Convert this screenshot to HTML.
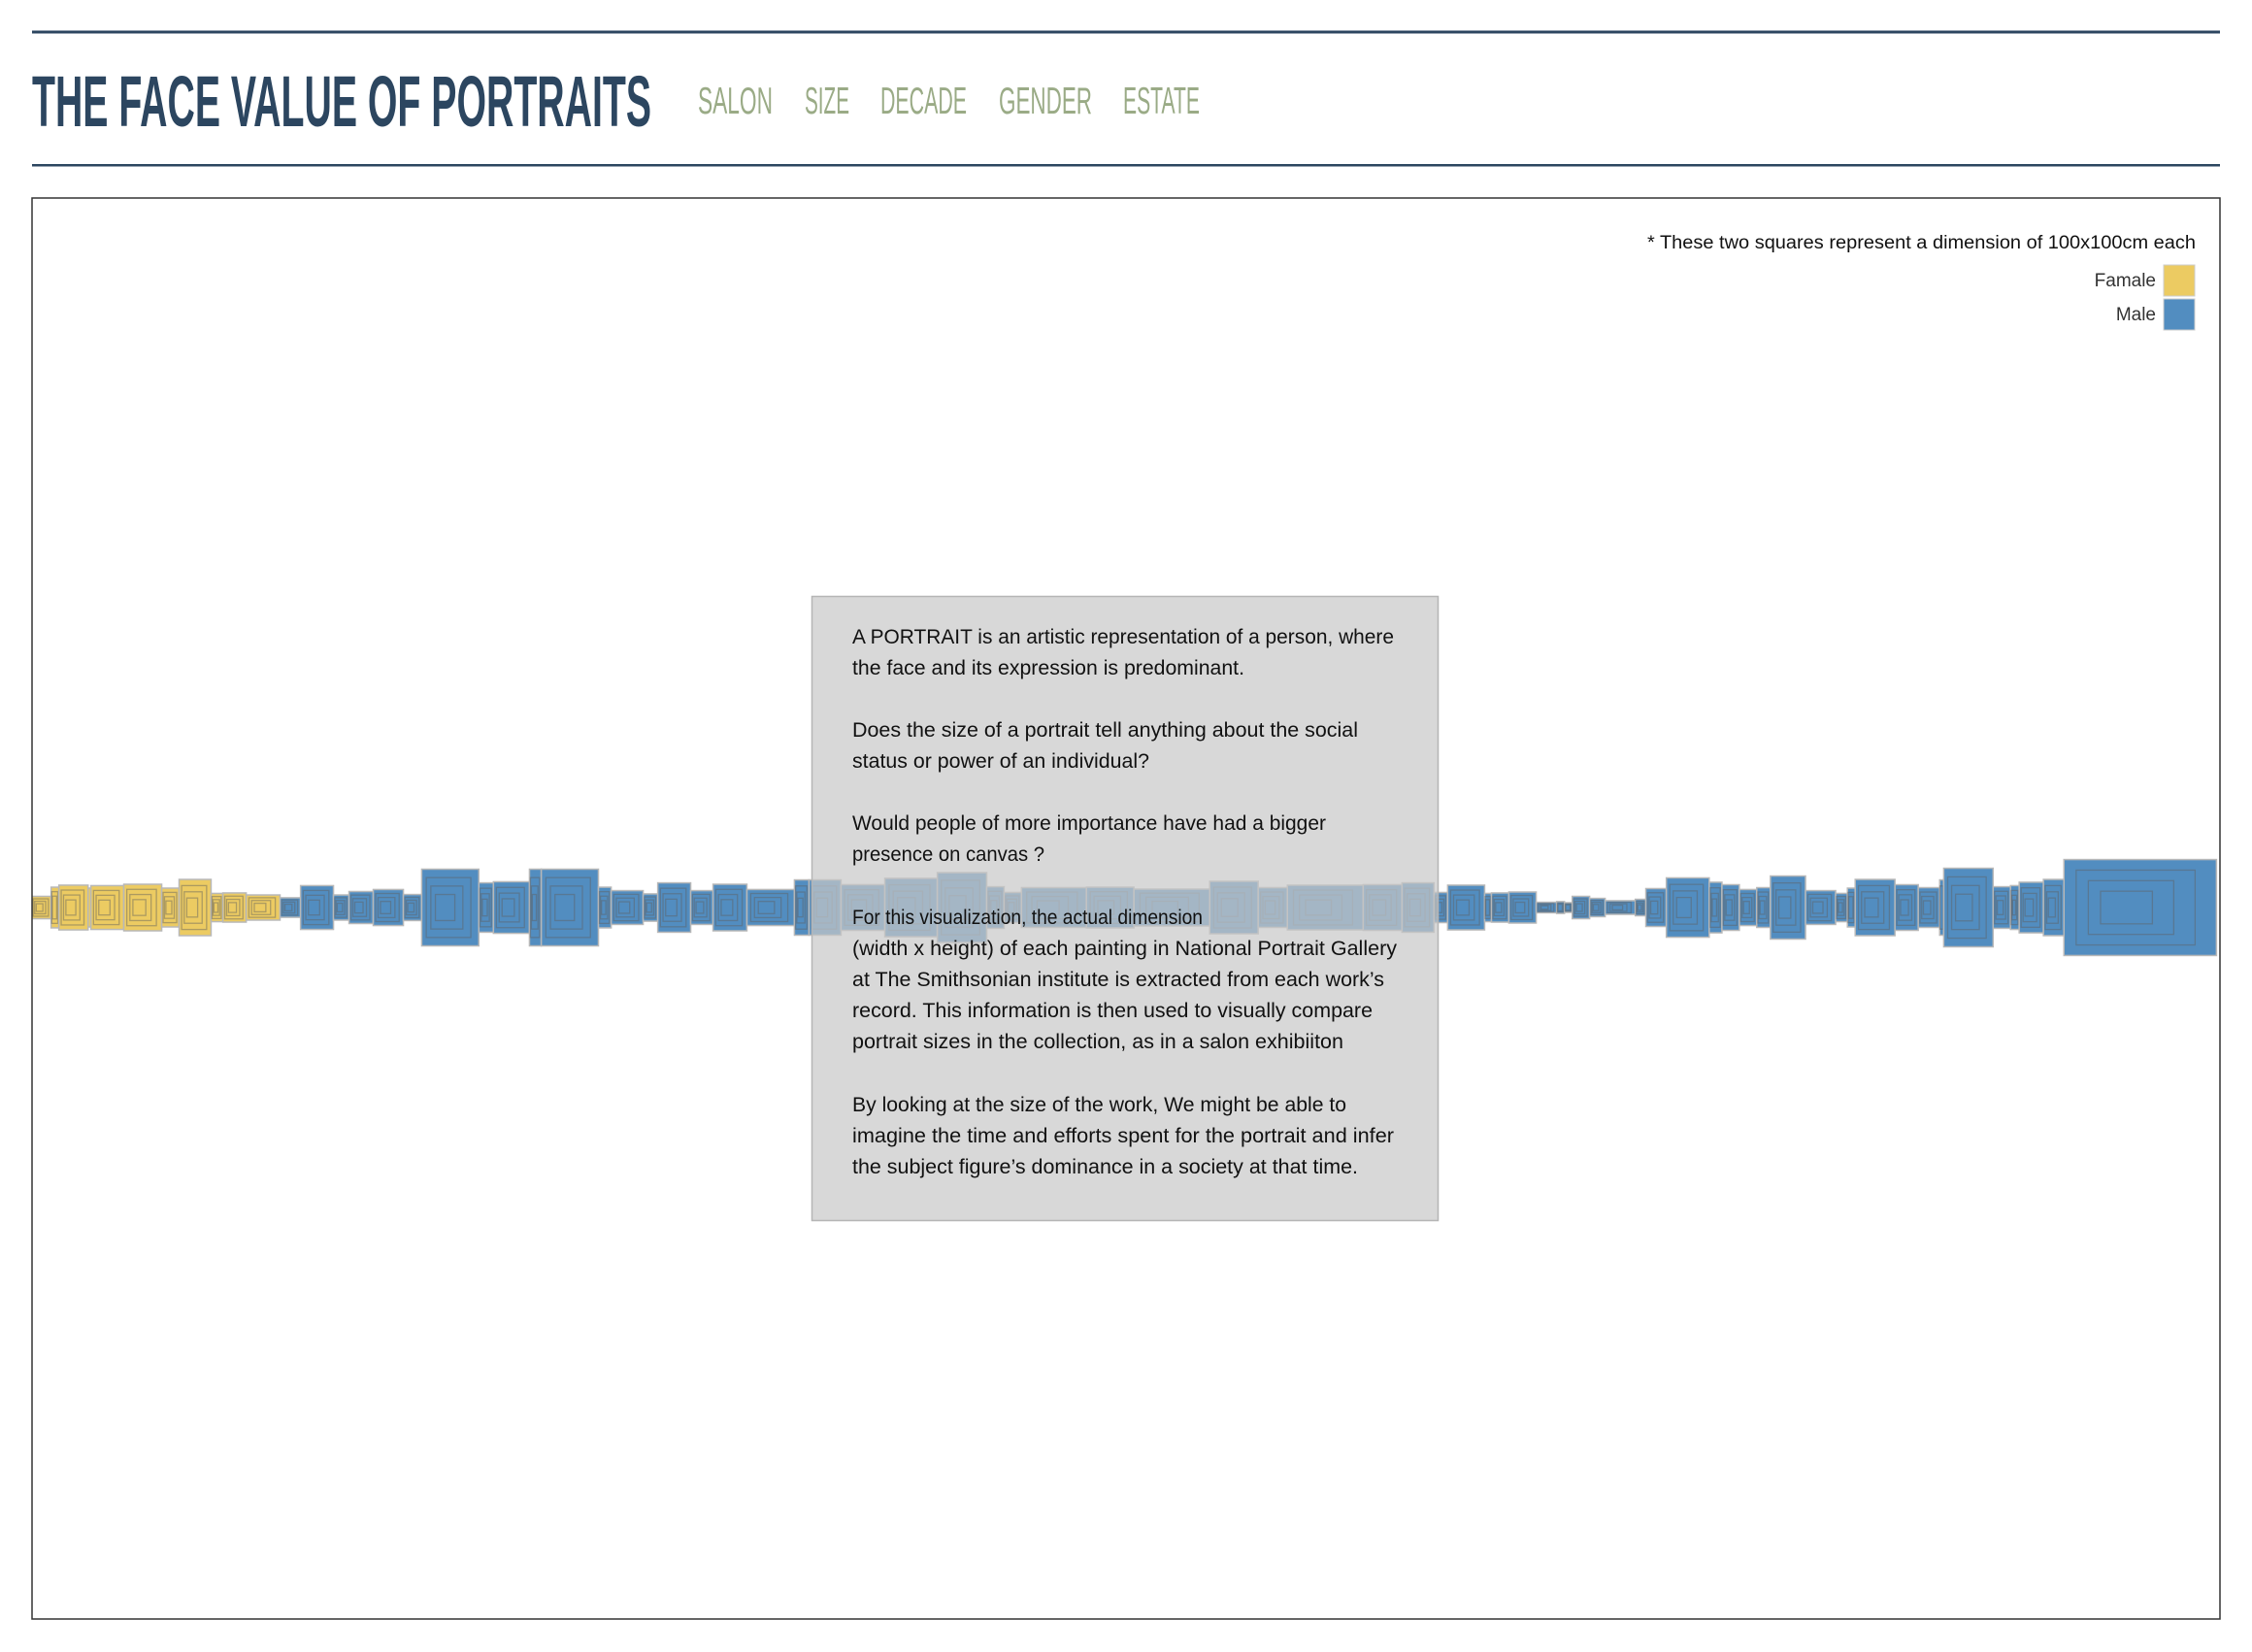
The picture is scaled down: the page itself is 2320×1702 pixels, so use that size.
<!DOCTYPE html>
<html><head><meta charset="utf-8">
<style>
html,body{margin:0;padding:0;background:#fff;width:2320px;height:1702px;overflow:hidden}
svg{display:block}
</style></head>
<body>
<svg id="root" width="2320" height="1702" viewBox="0 0 2320 1702" xmlns="http://www.w3.org/2000/svg">
  <rect x="33" y="31.5" width="2254" height="3" fill="#2c4660"/>
  <text x="33" y="130" font-family="Liberation Sans, sans-serif" font-size="74" font-weight="bold" fill="#2c4660" textLength="638" lengthAdjust="spacingAndGlyphs">THE FACE VALUE OF PORTRAITS</text>
  <g font-family="Liberation Sans, sans-serif" font-size="39" fill="#9aab86">
    <text x="719" y="117" textLength="77" lengthAdjust="spacingAndGlyphs">SALON</text>
    <text x="829" y="117" textLength="46" lengthAdjust="spacingAndGlyphs">SIZE</text>
    <text x="907" y="117" textLength="89" lengthAdjust="spacingAndGlyphs">DECADE</text>
    <text x="1029" y="117" textLength="96" lengthAdjust="spacingAndGlyphs">GENDER</text>
    <text x="1157" y="117" textLength="79" lengthAdjust="spacingAndGlyphs">ESTATE</text>
  </g>
  <rect x="33" y="169" width="2254" height="2.5" fill="#2c4660"/>

  <defs><clipPath id="chartClip"><rect x="33" y="204" width="2254" height="1464"/></clipPath></defs>
  <g id="strip" clip-path="url(#chartClip)"></g>
  <rect x="33" y="204" width="2254" height="1464" fill="none" stroke="#333" stroke-width="1.5"/>

  <g>
    <text x="2262" y="256" text-anchor="end" font-family="Liberation Sans, sans-serif" font-size="19" fill="#111" textLength="565" lengthAdjust="spacingAndGlyphs">* These two squares represent a dimension of 100x100cm each</text>
    <text x="2221" y="295" text-anchor="end" font-family="Liberation Sans, sans-serif" font-size="19" fill="#333">Famale</text>
    <rect x="2229" y="273" width="32" height="32" fill="#eccb62" stroke="#ccc" stroke-width="1"/>
    <text x="2221" y="330" text-anchor="end" font-family="Liberation Sans, sans-serif" font-size="19" fill="#333">Male</text>
    <rect x="2229" y="308" width="32" height="32" fill="#528dc0" stroke="#ccc" stroke-width="1"/>
  </g>

  <g>
    <rect x="836.5" y="614.5" width="645" height="643" fill="rgba(200,200,200,0.7)" stroke="#b5b5b5" stroke-width="1.5"/>
    <g font-family="Liberation Sans, sans-serif" font-size="21" fill="#111">
      <text x="878" y="663" textLength="558" lengthAdjust="spacingAndGlyphs">A PORTRAIT is an artistic representation of a person, where</text>
      <text x="878" y="695" textLength="404" lengthAdjust="spacingAndGlyphs">the face and its expression is predominant.</text>
      <text x="878" y="759" textLength="521" lengthAdjust="spacingAndGlyphs">Does the size of a portrait tell anything about the social</text>
      <text x="878" y="791" textLength="306" lengthAdjust="spacingAndGlyphs">status or power of an individual?</text>
      <text x="878" y="855" textLength="488" lengthAdjust="spacingAndGlyphs">Would people of more importance have had a bigger</text>
      <text x="878" y="887" textLength="198" lengthAdjust="spacingAndGlyphs">presence on canvas ?</text>
      <text x="878" y="952" textLength="361" lengthAdjust="spacingAndGlyphs">For this visualization, the actual dimension</text>
      <text x="878" y="984" textLength="561" lengthAdjust="spacingAndGlyphs">(width x height) of each painting in National Portrait Gallery</text>
      <text x="878" y="1016" textLength="548" lengthAdjust="spacingAndGlyphs">at The Smithsonian institute is extracted from each work’s</text>
      <text x="878" y="1048" textLength="536" lengthAdjust="spacingAndGlyphs">record. This information is then used to visually compare</text>
      <text x="878" y="1080" textLength="506" lengthAdjust="spacingAndGlyphs">portrait sizes in the collection, as in a salon exhibiiton</text>
      <text x="878" y="1145" textLength="509" lengthAdjust="spacingAndGlyphs">By looking at the size of the work, We might be able to</text>
      <text x="878" y="1177" textLength="558" lengthAdjust="spacingAndGlyphs">imagine the time and efforts spent for the portrait and infer</text>
      <text x="878" y="1209" textLength="521" lengthAdjust="spacingAndGlyphs">the subject figure’s dominance in a society at that time.</text>
    </g>
  </g>
</svg>
<script>
// Painting dimensions in cm, in display order
const widthsCm = [63,25,94,9,106,122,56,103,38,75,109,
  66,106,50,78,97,59,184,47,116,38,184,41,103,47,106,72,109,153,47,
  103,141,169,159,56,56,209,153,244,156,94,244,125,103,
  44,119,22,56,88,66,25,25,56,50,97,34,66,138,41,56,56,44,113,97,38,25,128,75,69,13,159,56,28,78,66,491];
const heightsCm = [72,131,144,125,141,150,125,181,91,94,81,
  63,141,81,103,116,84,247,159,166,247,247,131,109,88,159,109,150,116,178,
  178,147,188,225,134,97,128,131,119,169,128,144,147,159,
  97,144,91,94,100,34,38,31,72,59,44,53,122,191,163,147,116,128,203,109,91,125,181,147,128,178,253,134,141,163,181,309];
const femaleCount = 11;

const PX_PER_CM = 0.32;
const X0 = 32.5, CY = 935;
const sx = cm => cm * PX_PER_CM;
const NS = 'http://www.w3.org/2000/svg';
const strip = document.getElementById('strip');
let cursor = X0;
widthsCm.forEach((wc, i) => {
  const w = sx(wc), h = sx(heightsCm[i]);
  const female = i < femaleCount;
  const g = document.createElementNS(NS, 'g');
  
  
  const r = document.createElementNS(NS, 'rect');
  r.setAttribute('x', cursor); r.setAttribute('y', CY - h / 2);
  r.setAttribute('width', w); r.setAttribute('height', h);
  r.setAttribute('fill', female ? '#eccb62' : '#528dc0');
  r.setAttribute('stroke', '#b8b8b8'); r.setAttribute('stroke-width', '1.5');
  
  
  g.appendChild(r);
  [0.78, 0.56, 0.34].forEach((f, k) => {
    const ih = h * f, iw = w * f;
    if (iw < 3) return;
    const ir = document.createElementNS(NS, 'rect');
    ir.setAttribute('x', cursor + w * 0.08 * (k + 1)); ir.setAttribute('y', CY - ih / 2);
    ir.setAttribute('width', iw); ir.setAttribute('height', ih);
    ir.setAttribute('fill', 'none');
    ir.setAttribute('stroke', 'rgba(95,95,95,0.45)'); ir.setAttribute('stroke-width', '1.3');
    
    
    g.appendChild(ir);
  });
  strip.appendChild(g);
  cursor += w;
});
</script>
</body></html>
